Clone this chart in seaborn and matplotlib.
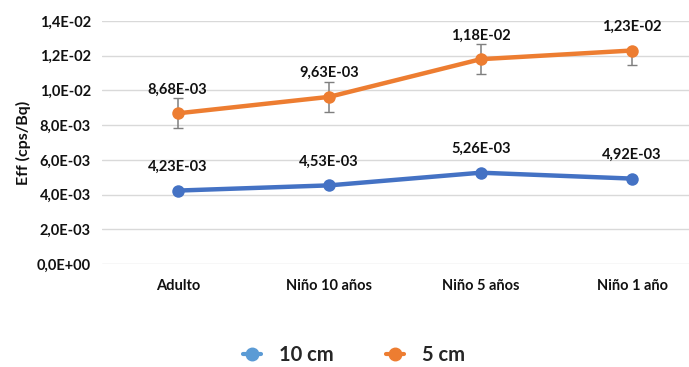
import pandas as pd
import numpy as np
import matplotlib
matplotlib.use("Agg")
import matplotlib.pyplot as plt
import seaborn as sns
from matplotlib.lines import Line2D
from matplotlib.ticker import FuncFormatter

# Data
categories = ["Adulto", "Niño 10 años", "Niño 5 años", "Niño 1 año"]
eff_10cm = [4.23e-3, 4.53e-3, 5.26e-3, 4.92e-3]
eff_5cm = [8.68e-3, 9.63e-3, 1.18e-2, 1.23e-2]
err_5cm_low = [0.86e-3, 0.86e-3, 0.86e-3, 0.82e-3]
err_5cm_high = [0.86e-3, 0.86e-3, 0.86e-3, 0.0]
series_names = ["10 cm", "5 cm"]

BLUE = "#4472C4"
BLUE_LEGEND = "#5B9BD5"
ORANGE = "#ED7D31"
TXT = "#111111"

sns.set_theme(style="whitegrid")
plt.rcParams["font.family"] = ["Lato", "DejaVu Sans"]

df = pd.DataFrame({
    "cat": categories * 2,
    "x": list(range(len(categories))) * 2,
    "eff": eff_10cm + eff_5cm,
    "serie": [series_names[0]] * 4 + [series_names[1]] * 4,
})

fig = plt.figure(figsize=(6.89, 3.67), dpi=100)
ax = fig.add_axes([102 / 689, (367 - 264) / 367, 1 - 102 / 689, (264 - 21) / 367])

sns.lineplot(data=df, x="x", y="eff", hue="serie", palette=[BLUE, ORANGE],
             marker="o", markersize=9, markeredgewidth=0, linewidth=3.2,
             legend=False, ax=ax, zorder=3)

# error bars on 5 cm series
ax.errorbar(range(len(categories)), eff_5cm, yerr=[err_5cm_low, err_5cm_high],
            fmt="none", ecolor="#7F7F7F", elinewidth=1.1, capsize=3.5, zorder=2)

# data labels
for vals in (eff_10cm, eff_5cm):
    for i, v in enumerate(vals):
        ax.annotate(f"{v:.2E}".replace(".", ","), (i, v), xytext=(0, 17),
                    textcoords="offset points", ha="center", va="center",
                    fontsize=10.5, fontweight="bold", color=TXT)

ax.set_xlim(-0.5, 3.375)
ax.set_ylim(0, 0.014)
ax.set_yticks(np.arange(0, 0.0141, 0.002))
ax.yaxis.set_major_formatter(FuncFormatter(lambda v, p: f"{v:.1E}".replace(".", ",")))
ax.set_xticks(range(len(categories)))
ax.set_xticklabels(categories)
ax.tick_params(axis="both", length=0, labelsize=10.5, colors=TXT, pad=8)
for lbl in ax.get_xticklabels() + ax.get_yticklabels():
    lbl.set_fontweight("bold")
ax.tick_params(axis="x", pad=11)

ax.grid(axis="y", color="#D9D9D9", linewidth=1)
ax.grid(axis="x", visible=False)
for s in ax.spines.values():
    s.set_visible(False)

ax.set_xlabel("")
ax.set_ylabel("Eff (cps/Bq)", fontsize=11.5, fontweight="bold", color=TXT, labelpad=4)

handles = [Line2D([0], [0], color=c, marker="o", markersize=9, linewidth=3)
           for c in (BLUE_LEGEND, ORANGE)]
fig.legend(handles, series_names, loc="center", bbox_to_anchor=(354 / 689, 1 - 355 / 367),
           ncol=2, frameon=False, handlelength=0.9, columnspacing=2.6, handletextpad=0.9,
           prop={"weight": "bold", "size": 14.5})

fig.savefig("out.png", dpi=100)
